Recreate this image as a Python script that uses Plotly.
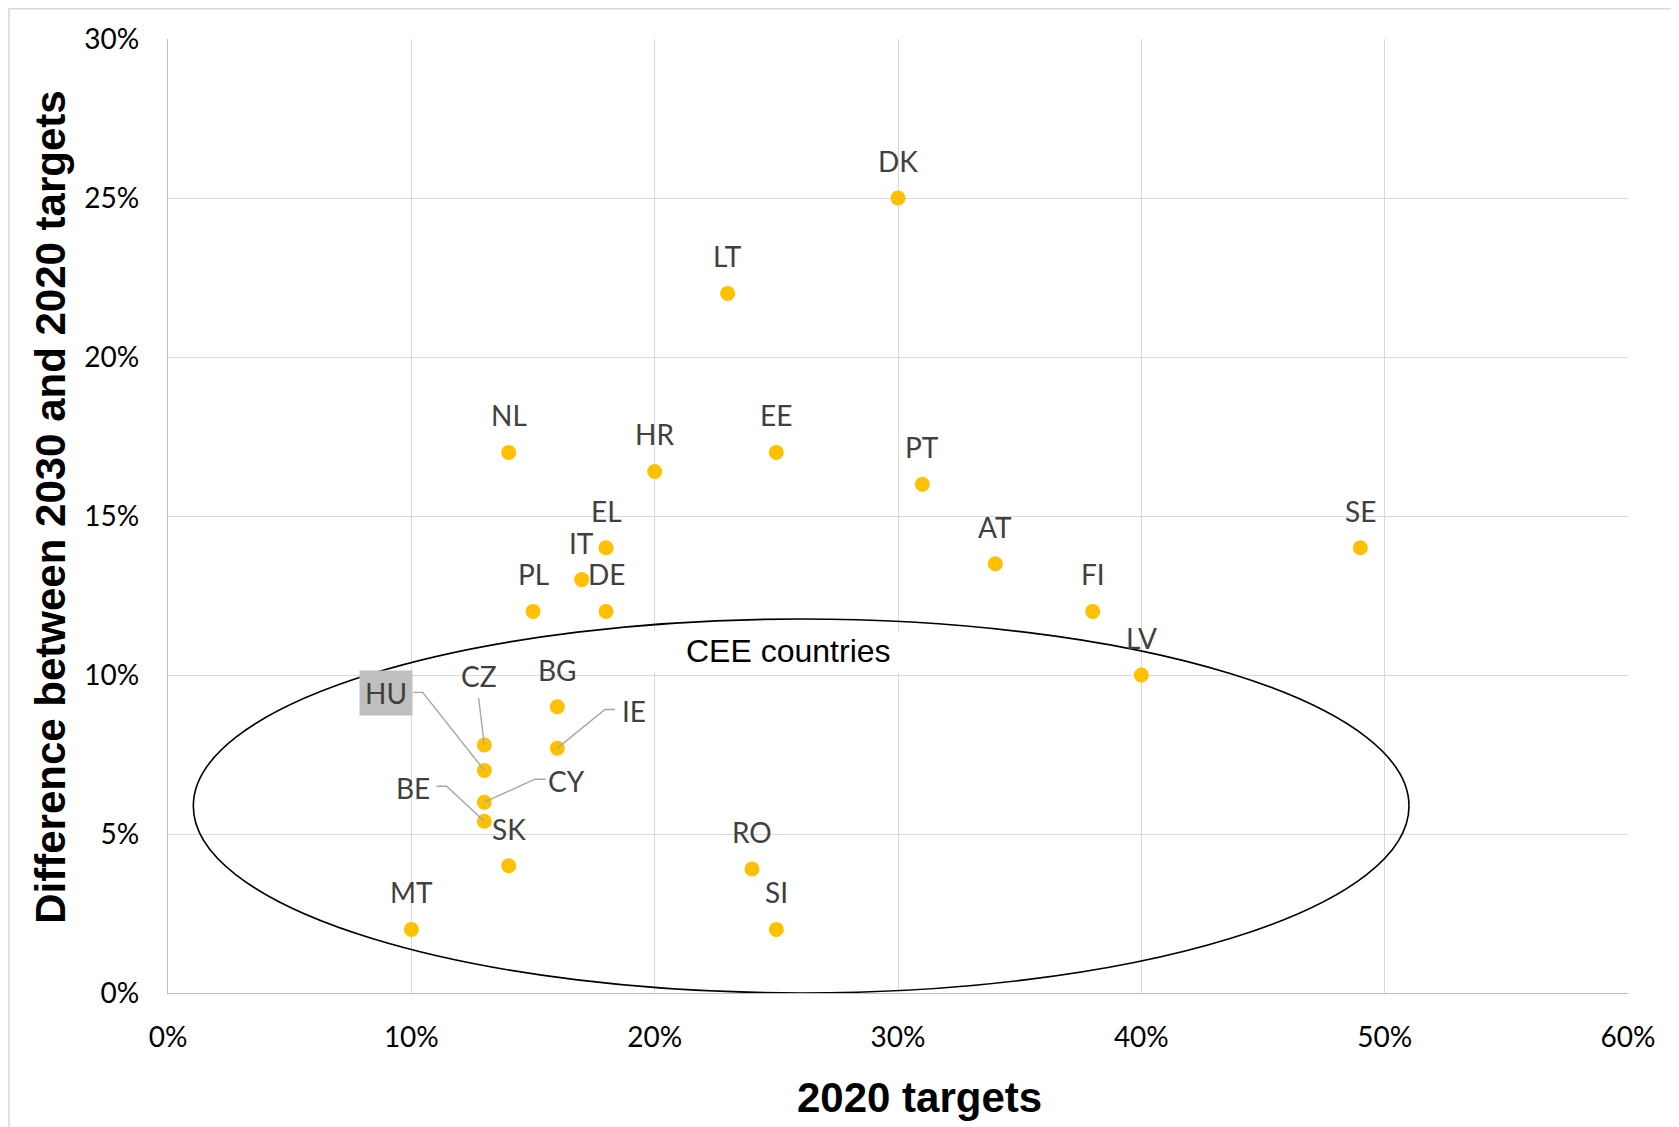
import plotly.graph_objects as go

# ---- data ----
countries = ["DK", "LT", "NL", "HR", "EE", "PT", "SE", "EL", "IT", "DE", "PL", "AT",
             "FI", "LV", "BG", "IE", "CZ", "HU", "CY", "BE", "SK", "MT", "RO", "SI"]
targets_2020 = [0.30, 0.23, 0.14, 0.20, 0.25, 0.31, 0.49, 0.18, 0.17, 0.18, 0.15, 0.34,
                0.38, 0.40, 0.16, 0.16, 0.13, 0.13, 0.13, 0.13, 0.14, 0.10, 0.24, 0.25]
diff_2030_2020 = [0.25, 0.22, 0.17, 0.164, 0.17, 0.16, 0.14, 0.14, 0.13, 0.12, 0.12, 0.135,
                  0.12, 0.10, 0.09, 0.077, 0.078, 0.07, 0.06, 0.054, 0.04, 0.02, 0.039, 0.02]
x_ticks = [0.0, 0.1, 0.2, 0.3, 0.4, 0.5, 0.6]
y_ticks = [0.0, 0.05, 0.10, 0.15, 0.20, 0.25, 0.30]
x_title = "2020 targets"
y_title = "Difference between 2030 and 2020 targets"
group_label = "CEE countries"

# ---- styling: label offsets (pixels, +y up) for leader-line labels ----
leader_style = {
    "HU": dict(tx=-98, ty=77, path=[(-71, 78), (-61.7, 78), (0, 0)], bg="#BFBFBF"),
    "CZ": dict(tx=-5, ty=69, path=[(-5.7, 47), (0, 0)], bg=None),
    "IE": dict(tx=77, ty=37, path=[(57.6, 38.7), (47.6, 38.7), (0, 0)], bg=None),
    "CY": dict(tx=82, ty=21, path=[(61.3, 23), (50.6, 23), (0, 0)], bg=None),
    "BE": dict(tx=-71, ty=33, path=[(-47.7, 35), (-37.7, 35), (0, 0)], bg=None),
}

LABEL_FONT = dict(family="Lato, 'Open Sans', sans-serif", size=28, color="#404040")
TICK_FONT = dict(family="Lato, 'Open Sans', sans-serif", size=28, color="#000000")
TITLE_FONT = dict(family="'Liberation Sans', Arial, sans-serif", size=42, color="#000000")

fig = go.Figure()
fig.add_trace(go.Scatter(
    x=targets_2020, y=diff_2030_2020, mode="markers",
    marker=dict(color="#FFC000", size=15, line=dict(width=0)),
    cliponaxis=False, hoverinfo="text", text=countries, showlegend=False,
))

annotations = []
shapes = []

# white box behind the group label, then the ellipse
cee_x, cee_y = 0.255, 0.1074
shapes.append(dict(type="rect", xref="x", yref="y", xsizemode="pixel", ysizemode="pixel",
                   xanchor=cee_x, yanchor=cee_y, x0=-179, x1=179, y0=-21, y1=20,
                   fillcolor="white", line=dict(width=0), layer="between"))
shapes.append(dict(type="circle", xref="x", yref="y", x0=0.0104, x1=0.510, y0=0.0, y1=0.1176,
                   line=dict(color="#000000", width=1.6), fillcolor="rgba(0,0,0,0)", layer="between"))
annotations.append(dict(x=cee_x, y=cee_y, xref="x", yref="y", text=group_label, showarrow=False,
                        font=dict(family="'Liberation Sans', Arial, sans-serif", size=32, color="#000000"),
                        xanchor="center", yanchor="middle"))

for c, xv, yv in zip(countries, targets_2020, diff_2030_2020):
    if c in leader_style:
        st = leader_style[c]
        pts = st["path"]
        path = "M" + " L".join(f"{px},{py}" for px, py in pts)
        shapes.append(dict(type="path", xref="x", yref="y", xsizemode="pixel", ysizemode="pixel",
                           xanchor=xv, yanchor=yv, path=path,
                           line=dict(color="#A6A6A6", width=1.4), layer="above"))
        ann = dict(x=xv, y=yv, xref="x", yref="y", text=c, showarrow=False, font=LABEL_FONT,
                   xanchor="center", yanchor="middle", xshift=st["tx"], yshift=st["ty"])
        if st["bg"]:
            ann.update(bgcolor=st["bg"], borderpad=5)
        annotations.append(ann)
    else:
        annotations.append(dict(x=xv, y=yv, xref="x", yref="y", text=c, showarrow=False,
                                font=LABEL_FONT, xanchor="center", yanchor="middle", yshift=37))

# axis titles
annotations.append(dict(x=0.515, y=-0.110, xref="paper", yref="paper", text=f"<b>{x_title}</b>",
                        showarrow=False, font=TITLE_FONT, xanchor="center", yanchor="middle"))
annotations.append(dict(x=-0.0806, y=0.509, xref="paper", yref="paper", text=f"<b>{y_title}</b>",
                        showarrow=False, font=TITLE_FONT, xanchor="center", yanchor="middle",
                        textangle=-90))

# outer chart border (top and left edges visible; right/bottom run off the page)
shapes.append(dict(type="rect", xref="paper", yref="paper", x0=-0.1089, x1=1.2, y0=-0.3, y1=1.0317,
                   line=dict(color="#D9D9D9", width=1.5), fillcolor="rgba(0,0,0,0)", layer="below"))

fig.update_layout(
    width=1663, height=1119, autosize=False,
    margin=dict(l=160, r=43, t=31, b=134),
    paper_bgcolor="white", plot_bgcolor="white",
    shapes=shapes, annotations=annotations,
    xaxis=dict(range=[0, 0.6], tickvals=x_ticks, tickformat=".0%", showgrid=True,
               gridcolor="#D9D9D9", gridwidth=1, showline=True, linecolor="#BFBFBF", linewidth=1.3,
               zeroline=False, ticks="outside", ticklen=19, tickcolor="rgba(0,0,0,0)",
               tickfont=TICK_FONT, fixedrange=True),
    yaxis=dict(range=[0, 0.3], tickvals=y_ticks, tickformat=".0%", showgrid=True,
               gridcolor="#D9D9D9", gridwidth=1, showline=True, linecolor="#BFBFBF", linewidth=1.3,
               zeroline=False, ticks="outside", ticklen=22, tickcolor="rgba(0,0,0,0)",
               tickfont=TICK_FONT, fixedrange=True),
)

fig.write_html("out.html")
